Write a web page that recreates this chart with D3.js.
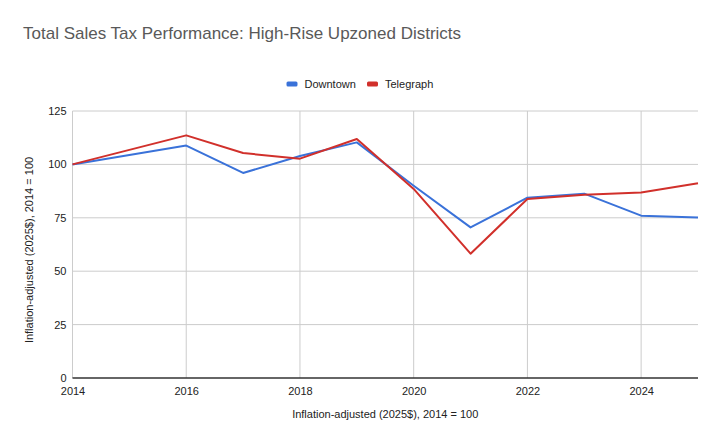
<!DOCTYPE html>
<html>
<head>
<meta charset="utf-8">
<script src="https://cdn.jsdelivr.net/npm/d3@7"></script>
<style>
  body { margin: 0; background: #fff; }
  text { font-family: "Liberation Sans", Arial, sans-serif; }
</style>
</head>
<body>
<div id="chart"></div>
<script>
// data (2015 has no point)
var years = [2014, 2016, 2017, 2018, 2019, 2020, 2021, 2022, 2023, 2024, 2025];
var downtown = [100, 108.8, 96.0, 103.9, 110.3, 90.0, 70.5, 84.4, 86.3, 76.0, 75.1];
var telegraph = [100, 113.6, 105.3, 102.7, 111.9, 88.5, 58.2, 83.8, 85.8, 86.8, 91.2];
var seriesNames = ["Downtown", "Telegraph"];
var xTicks = [2014, 2016, 2018, 2020, 2022, 2024];
var yTicks = [0, 25, 50, 75, 100, 125];

var width = 720;
var height = 445;
var margin = {left: 72.5, right: 22, top: 111, bottom: 67};

var svg = d3.select("#chart").append("svg").attr("width", width).attr("height", height);

var x = d3.scaleLinear().domain([2014, 2025]).range([margin.left, width - margin.right]);
var y = d3.scaleLinear().domain([0, 125]).range([height - margin.bottom, margin.top]);

// 色
var color = d3.scaleOrdinal().domain(seriesNames).range(["#3a72d9", "#d1302b"]);

// title
svg.append("text")
  .attr("x", 23).attr("y", 38.5)
  .attr("font-size", "17px")
  .attr("fill", "#595959")
  .text("Total Sales Tax Performance: High-Rise Upzoned Districts");

// gridlines
svg.append("g").selectAll("line.h")
  .data(yTicks.filter(function(d) { return d > 0; }))
  .enter().append("line")
  .attr("x1", x(2014)).attr("x2", x(2025))
  .attr("y1", function(d) { return y(d); }).attr("y2", function(d) { return y(d); })
  .attr("stroke", "#ccc").attr("stroke-width", 1);

svg.append("g").selectAll("line.v")
  .data(xTicks)
  .enter().append("line")
  .attr("x1", function(d) { return x(d); }).attr("x2", function(d) { return x(d); })
  .attr("y1", y(125)).attr("y2", y(0))
  .attr("stroke", "#ccc").attr("stroke-width", 1);

// axes (text only, lines hidden)
var xAxis = svg.append("g")
  .attr("transform", "translate(0," + y(0) + ")")
  .call(d3.axisBottom(x).tickValues(xTicks).tickFormat(d3.format("d")).tickSize(0).tickPadding(9));
xAxis.select(".domain").remove();
xAxis.selectAll("text").attr("font-size", "11px").attr("fill", "#222").attr("font-family", "Liberation Sans, Arial, sans-serif");

var yAxis = svg.append("g")
  .attr("transform", "translate(" + x(2014) + ",0)")
  .call(d3.axisLeft(y).tickValues(yTicks).tickSize(0).tickPadding(6));
yAxis.select(".domain").remove();
yAxis.selectAll("text").attr("font-size", "11px").attr("fill", "#222").attr("font-family", "Liberation Sans, Arial, sans-serif");

// baseline
svg.append("line")
  .attr("x1", x(2014)).attr("x2", x(2025))
  .attr("y1", y(0)).attr("y2", y(0))
  .attr("stroke", "#333").attr("stroke-width", 1.5);

// lines
var line = d3.line()
  .x(function(d) { return x(d[0]); })
  .y(function(d) { return y(d[1]); });

var seriesData = [downtown, telegraph];
seriesData.forEach(function(vals, i) {
  svg.append("path")
    .datum(years.map(function(yr, j) { return [yr, vals[j]]; }))
    .attr("d", line)
    .attr("fill", "none")
    .attr("stroke", color(seriesNames[i]))
    .attr("stroke-width", 2)
    .attr("stroke-linejoin", "round");
});

// legend
var legendX = [286.5, 367];
var legend = svg.append("g").selectAll("g")
  .data(seriesNames)
  .enter().append("g")
  .attr("transform", function(d, i) { return "translate(" + legendX[i] + ",84)"; });
legend.append("rect")
  .attr("x", 0).attr("y", -2.5)
  .attr("width", 11).attr("height", 5).attr("rx", 1.5)
  .attr("fill", function(d) { return color(d); });
legend.append("text")
  .attr("x", 18).attr("y", 3.8)
  .attr("font-size", "11px")
  .attr("fill", "#222")
  .text(function(d) { return d; });

// axis titles
svg.append("text")
  .attr("x", (x(2014) + x(2025)) / 2).attr("y", 418)
  .attr("text-anchor", "middle")
  .attr("font-size", "11px")
  .attr("fill", "#222")
  .text("Inflation-adjusted (2025$), 2014 = 100");

svg.append("text")
  .attr("transform", "translate(33,250) rotate(-90)")
  .attr("text-anchor", "middle")
  .attr("font-size", "11px")
  .attr("fill", "#222")
  .text("Inflation-adjusted (2025$), 2014 = 100");
</script>
</body>
</html>
